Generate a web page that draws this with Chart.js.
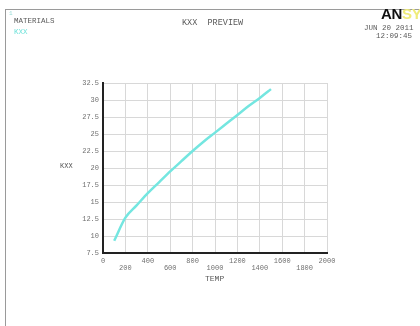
<!DOCTYPE html>
<html>
<head>
<meta charset="utf-8">
<script src="https://cdn.jsdelivr.net/npm/chart.js@4.4.1/dist/chart.umd.min.js"></script>
<style>
  html, body { margin: 0; padding: 0; background: #fff; }
  #wrap { position: relative; width: 420px; height: 326px; overflow: hidden; background: #fff; }
  #c { position: absolute; left: 0; top: 0; }
  .t { position: absolute; font-family: "Liberation Mono", "DejaVu Sans Mono", monospace; color: #5a5a5a; white-space: pre; line-height: 1; }
  .frameTop { position: absolute; left: 5px; top: 9px; width: 415px; height: 1px; background: #9a9a9a; }
  .frameLeft { position: absolute; left: 5px; top: 9px; width: 1px; height: 317px; background: #9a9a9a; }
  .logo { position: absolute; left: 381px; top: 6px; font-family: "Liberation Sans", Arial, sans-serif; font-weight: bold; font-size: 15px; line-height: 1; letter-spacing: -0.3px; color: #111; white-space: pre; }
  .logo span { color: #efec7a; }
</style>
</head>
<body>
<div id="wrap">
  <canvas id="c" width="420" height="326"></canvas>
  <div class="frameTop"></div>
  <div class="frameLeft"></div>
  <div class="t" style="left:9px;top:11px;font-size:6px;color:#9adcd8;">1</div>
  <div class="t" style="left:14px;top:18px;font-size:7.5px;">MATERIALS</div>
  <div class="t" style="left:14px;top:29px;font-size:7.5px;color:#6fe2da;">KXX</div>
  <div class="t" style="left:182px;top:19px;font-size:8.5px;">KXX  PREVIEW</div>
  <div class="logo">AN<span>SYS</span></div>
  <div class="t" style="left:364px;top:25px;font-size:7.5px;">JUN 20 2011</div>
  <div class="t" style="left:376px;top:33px;font-size:7.5px;">12:09:45</div>
  <div class="t" style="left:60px;top:163px;font-size:7px;">KXX</div>
  <div class="t" style="left:205px;top:275px;font-size:8px;">TEMP</div>
</div>
<script>
// Thermal conductivity KXX against temperature
const temps = [100, 200, 300, 400, 500, 600, 700, 800, 900, 1000, 1100, 1200, 1300, 1400, 1500];
const kxx = [9.3, 12.7, 14.5, 16.3, 17.9, 19.5, 21.0, 22.5, 23.9, 25.2, 26.5, 27.8, 29.1, 30.3, 31.6];

// Axis ranges and tick steps
const xRange = [0, 2000];
const xStep = 200;
const yRange = [7.5, 32.5];
const yStep = 2.5;

const points = temps.map((t, i) => ({ x: t, y: kxx[i] }));

const tickFont = { family: '"Liberation Mono", "DejaVu Sans Mono", monospace', size: 7, lineHeight: 1 };

new Chart(document.getElementById('c'), {
  type: 'line',
  data: {
    datasets: [{
      data: points,
      borderColor: '#74e6e0',
      borderWidth: 2.5,
      pointRadius: 0,
      cubicInterpolationMode: 'monotone',
      fill: false
    }]
  },
  options: {
    responsive: false,
    animation: false,
    devicePixelRatio: 1,
    layout: { padding: { left: 0, top: 83, right: 93, bottom: 0 } },
    plugins: { legend: { display: false }, tooltip: { enabled: false } },
    scales: {
      x: {
        type: 'linear',
        min: xRange[0],
        max: xRange[1],
        afterFit: (s) => { s.height = 73; },
        grid: { color: '#d8d8d8', lineWidth: 1, drawTicks: false },
        border: { color: '#222', width: 2 },
        ticks: {
          stepSize: xStep,
          autoSkip: false,
          maxRotation: 0,
          padding: 5,
          color: '#707070',
          font: tickFont,
          // alternate labels between two rows
          callback: (v, i) => (i % 2 === 0 ? [String(v), ''] : ['', String(v)])
        }
      },
      y: {
        type: 'linear',
        min: yRange[0],
        max: yRange[1],
        afterFit: (s) => { s.width = 103; },
        grid: { color: '#d8d8d8', lineWidth: 1, drawTicks: false },
        border: { color: '#222', width: 2 },
        ticks: {
          stepSize: yStep,
          padding: 4,
          color: '#707070',
          font: tickFont
        }
      }
    }
  }
});
</script>
</body>
</html>
